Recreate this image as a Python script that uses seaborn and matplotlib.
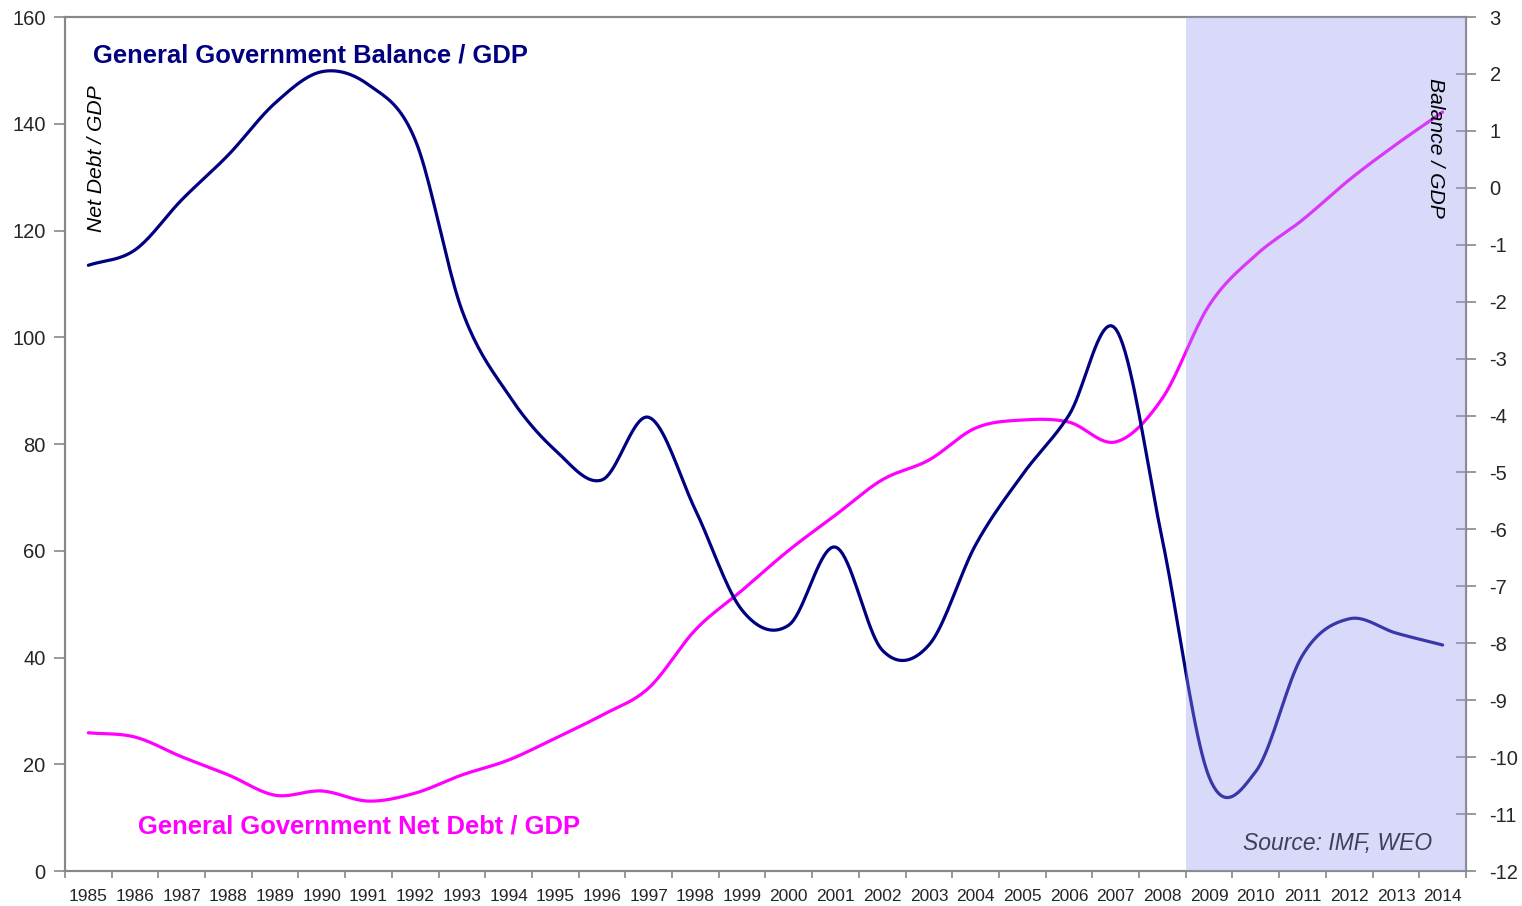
import numpy as np
import pandas as pd
import matplotlib
matplotlib.use("Agg")
import matplotlib.pyplot as plt
import seaborn as sns

# --- data ---
years = list(range(1985, 2015))

# General Government Net Debt / GDP (left axis, %)
net_debt = [25.9, 25.1, 21.4, 18.0, 14.2, 15.0, 13.1, 14.6, 18.0, 20.8,
            24.9, 29.2, 34.3, 45.2, 52.6, 60.1, 66.7, 73.3, 77.0, 83.0,
            84.5, 84.1, 80.4, 88.6, 106.0, 115.4, 122.0, 129.5, 136.1, 142.2]

# General Government Balance / GDP (right axis, %)
balance = [-1.36, -1.09, -0.21, 0.58, 1.49, 2.04, 1.81, 0.84, -2.15, -3.64,
           -4.61, -5.13, -4.03, -5.66, -7.42, -7.68, -6.31, -8.12, -8.03, -6.27,
           -5.04, -3.99, -2.48, -6.19, -10.35, -10.25, -8.21, -7.57, -7.82, -8.03]

shade_from = 2009
source_note = "Source: IMF, WEO"


def smooth(x, y, n=20):
    # Catmull-Rom spline, similar to Excel's "smoothed line"
    x = np.asarray(x, float)
    y = np.asarray(y, float)
    px = np.concatenate([[2 * x[0] - x[1]], x, [2 * x[-1] - x[-2]]])
    py = np.concatenate([[2 * y[0] - y[1]], y, [2 * y[-1] - y[-2]]])
    t = np.linspace(0, 1, n, endpoint=False)
    xs, ys = [], []
    for i in range(1, len(px) - 2):
        for p, out in ((px, xs), (py, ys)):
            p0, p1, p2, p3 = p[i - 1], p[i], p[i + 1], p[i + 2]
            out.extend(0.5 * (2 * p1 + (-p0 + p2) * t
                              + (2 * p0 - 5 * p1 + 4 * p2 - p3) * t ** 2
                              + (-p0 + 3 * p1 - 3 * p2 + p3) * t ** 3))
    xs.append(x[-1])
    ys.append(y[-1])
    return np.array(xs), np.array(ys)


sns.set_theme(style="white")
plt.rcParams['font.family'] = ['Liberation Sans', 'DejaVu Sans']
plt.rcParams['axes.unicode_minus'] = False

fig = plt.figure(figsize=(15.22, 9.06), dpi=100)
ax = fig.add_axes([0.0427, 0.0386, 0.9205, 0.9426])
ax2 = ax.twinx()

dx, dy = smooth(years, net_debt)
bx, by = smooth(years, balance)
sns.lineplot(x=dx, y=dy, ax=ax, color="#ff00ff", linewidth=2.3, zorder=2)
sns.lineplot(x=bx, y=by, ax=ax2, color="#000080", linewidth=2.3, zorder=2)

# shaded forecast period, drawn over the lines like the original
ax2.axvspan(shade_from - 0.5, years[-1] + 0.5, color="#9a9af1", alpha=0.37,
            lw=0, zorder=3)

ax.set_xlim(years[0] - 0.5, years[-1] + 0.5)
ax.set_ylim(0, 160)
ax2.set_ylim(-12, 3)
ax.set_yticks(range(0, 161, 20))
ax2.set_yticks(range(-12, 4))

# category axis: ticks at boundaries, labels centred
ax.set_xticks(np.arange(years[0] - 0.5, years[-1] + 1))
ax.set_xticklabels([])
ax.set_xticks(years, minor=True)
ax.set_xticklabels([str(y) for y in years], minor=True,
                   family=['Liberation Sans Narrow', 'Liberation Sans'], fontsize=12.5)
ax.tick_params(axis='x', which='major', direction='out', length=5, width=1.2,
               color="#888888", bottom=True)
ax.tick_params(axis='x', which='minor', length=0, pad=13, bottom=True)
ax.tick_params(axis='y', direction='out', length=8, width=1.2, color="#888888",
               labelsize=14.5, left=True, pad=6)
ax2.tick_params(axis='y', direction='inout', length=14, width=1.2, color="#888888",
                labelsize=14.5, right=True, pad=10)

for a in (ax, ax2):
    for s in a.spines.values():
        s.set_color("#888888")
        s.set_linewidth(1.5)
ax.set_xlabel("")
ax.set_ylabel("")
ax2.set_ylabel("")

# annotations
ax.text(0.020, 0.9555, "General Government Balance / GDP", transform=ax.transAxes,
        color="#000080", fontsize=18.4, fontweight="bold", va="center", ha="left", zorder=5)
ax.text(0.0521, 0.0527, "General Government Net Debt / GDP", transform=ax.transAxes,
        color="#ff00ff", fontsize=18.4, fontweight="bold", va="center", ha="left", zorder=5)
ax2.text(0.9757, 0.0328, source_note, transform=ax2.transAxes, color="#404058",
         fontsize=16.5, style="italic", va="center", ha="right", zorder=5)
ax.text(0.0228, 0.834, "Net Debt / GDP", transform=ax.transAxes, rotation=90,
        fontsize=15.2, style="italic", va="center", ha="center", color="black")
ax2.text(0.978, 0.8466, "Balance / GDP", transform=ax2.transAxes, rotation=270,
         fontsize=15.2, style="italic", va="center", ha="center", color="black", zorder=5)

fig.savefig("out.png", dpi=100)
